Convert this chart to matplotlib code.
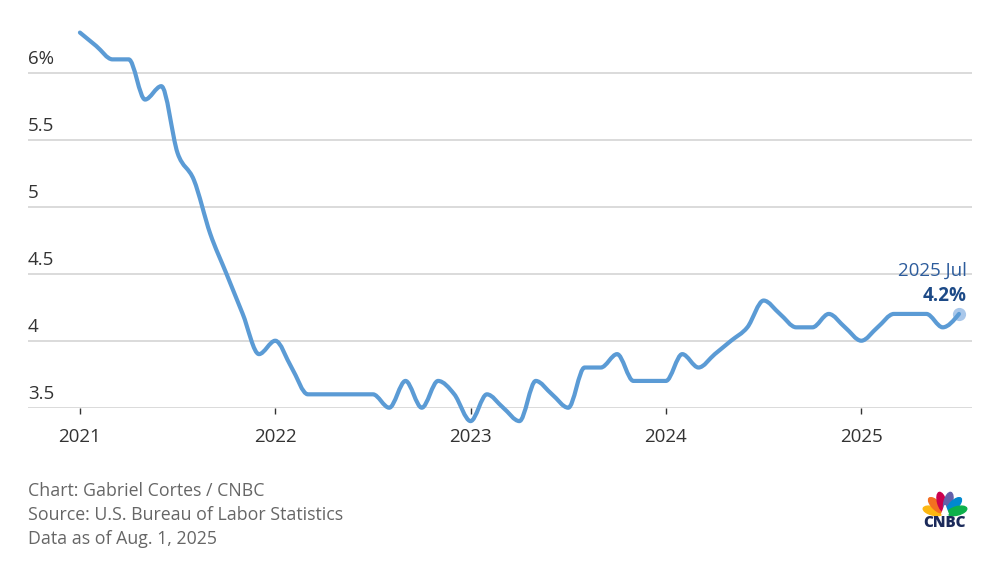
import matplotlib
matplotlib.use("Agg")
import matplotlib.pyplot as plt
from matplotlib.patches import Ellipse, Polygon, PathPatch
from matplotlib.path import Path
import numpy as np

plt.rcParams["font.family"] = ["Open Sans", "DejaVu Sans"]

# monthly US unemployment rate, Jan 2021 .. Jul 2025
rate = [
    6.3, 6.2, 6.1, 6.1, 5.8, 5.9, 5.4, 5.2, 4.8, 4.5, 4.2, 3.9,   # 2021
    4.0, 3.8, 3.6, 3.6, 3.6, 3.6, 3.6, 3.5, 3.7, 3.5, 3.7, 3.6,   # 2022
    3.4, 3.6, 3.5, 3.4, 3.7, 3.6, 3.5, 3.8, 3.8, 3.9, 3.7, 3.7,   # 2023
    3.7, 3.9, 3.8, 3.9, 4.0, 4.1, 4.3, 4.2, 4.1, 4.1, 4.2, 4.1,   # 2024
    4.0, 4.1, 4.2, 4.2, 4.2, 4.1, 4.2,                            # 2025
]
months = np.arange(len(rate))
year_ticks = [0, 12, 24, 36, 48]
year_labels = ["2021", "2022", "2023", "2024", "2025"]
y_ticks = [3.5, 4.0, 4.5, 5.0, 5.5, 6.0]
y_labels = ["3.5", "4", "4.5", "5", "5.5", "6%"]
last_label = "2025 Jul"
last_value = "4.2%"
footer = [
    "Chart: Gabriel Cortes / CNBC",
    "Source: U.S. Bureau of Labor Statistics",
    "Data as of Aug. 1, 2025",
]

LINE = "#5b9bd5"
GRID = "#dadada"
TXT = "#333333"


def monotone_path(x, y):
    """Bezier path through the points, like d3.curveMonotoneX."""
    x = np.asarray(x, float)
    y = np.asarray(y, float)
    h = np.diff(x)
    s = np.diff(y) / h
    t = np.zeros_like(y)
    for i in range(1, len(y) - 1):
        if s[i - 1] * s[i] > 0:
            p = (s[i - 1] * h[i] + s[i] * h[i - 1]) / (h[i - 1] + h[i])
            t[i] = 2 * np.sign(s[i]) * min(abs(s[i - 1]), abs(s[i]), 0.5 * abs(p))
    t[0] = (3 * s[0] - t[1]) / 2
    t[-1] = (3 * s[-1] - t[-2]) / 2
    verts = [(x[0], y[0])]
    codes = [Path.MOVETO]
    for i in range(len(x) - 1):
        dx = h[i] / 3
        verts += [(x[i] + dx, y[i] + dx * t[i]),
                  (x[i + 1] - dx, y[i + 1] - dx * t[i + 1]),
                  (x[i + 1], y[i + 1])]
        codes += [Path.CURVE4] * 3
    return Path(verts, codes)


fig = plt.figure(figsize=(10, 5.64), dpi=100)
ax = fig.add_axes([0.028, 0.2771, 0.944, 0.6889])
ax.set_xlim(-3.19, 54.8)
ax.set_ylim(3.5, 6.4)

for v in y_ticks:
    ax.axhline(v, color=GRID, lw=1.4, zorder=1)
for v, lab in zip(y_ticks, y_labels):
    ax.text(0.0, v + 0.035, lab, transform=ax.get_yaxis_transform(),
            ha="left", va="bottom", fontsize=13.5, color=TXT)

ax.add_patch(PathPatch(monotone_path(months, rate), fill=False, ec=LINE,
                       lw=3.0, joinstyle="round", capstyle="round",
                       clip_on=False, zorder=3))
ax.plot(months[-1], rate[-1], "o", ms=9.5, color="#a9c7ea", mec="none",
        clip_on=False, zorder=2)

ax.annotate(last_label, (months[-1], rate[-1]), xytext=(8, 43),
            textcoords="offset pixels", ha="right", va="center",
            fontsize=13.5, color="#2d5c9c")
ax.annotate(last_value, (months[-1], rate[-1]), xytext=(8, 18),
            textcoords="offset pixels", ha="right", va="center",
            fontsize=13.5, color="#1d4a87", fontweight="bold")

for s in ax.spines.values():
    s.set_visible(False)
ax.set_yticks([])
ax.set_xticks(year_ticks)
ax.set_xticklabels(year_labels, fontsize=13.5, color=TXT)
ax.tick_params(axis="x", length=4.5, width=1, color=TXT, pad=10)

for i, line in enumerate(footer):
    fig.text(0.028, 1 - (491 + 24 * i) / 564, line, fontsize=12.8,
             color="#666666", ha="left", va="center")

# CNBC peacock logo
lax = fig.add_axes([0.922, 0.078, 0.046, 0.056])
lax.set_xlim(-1.1, 1.1)
lax.set_ylim(-0.15, 1.1)
lax.set_aspect("equal")
lax.axis("off")
feathers = ["#fcb711", "#f37021", "#cc004c", "#6460aa", "#0089d0", "#0db14b"]
for k, col in enumerate(feathers):
    th = np.deg2rad(165 - 30 * k)
    lax.add_patch(Ellipse((0.6 * np.cos(th), 0.6 * np.sin(th)), 0.95, 0.40,
                          angle=np.rad2deg(th), color=col))
lax.add_patch(Polygon([(-0.16, 0.0), (0.16, 0.0), (0.0, 0.42)], color="white"))
fig.text(0.945, 1 - 523 / 564, "CNBC", fontsize=11, fontweight="heavy",
         color="#1b2a5a", ha="center", va="center")

fig.savefig("out.png", dpi=100, facecolor="white")
